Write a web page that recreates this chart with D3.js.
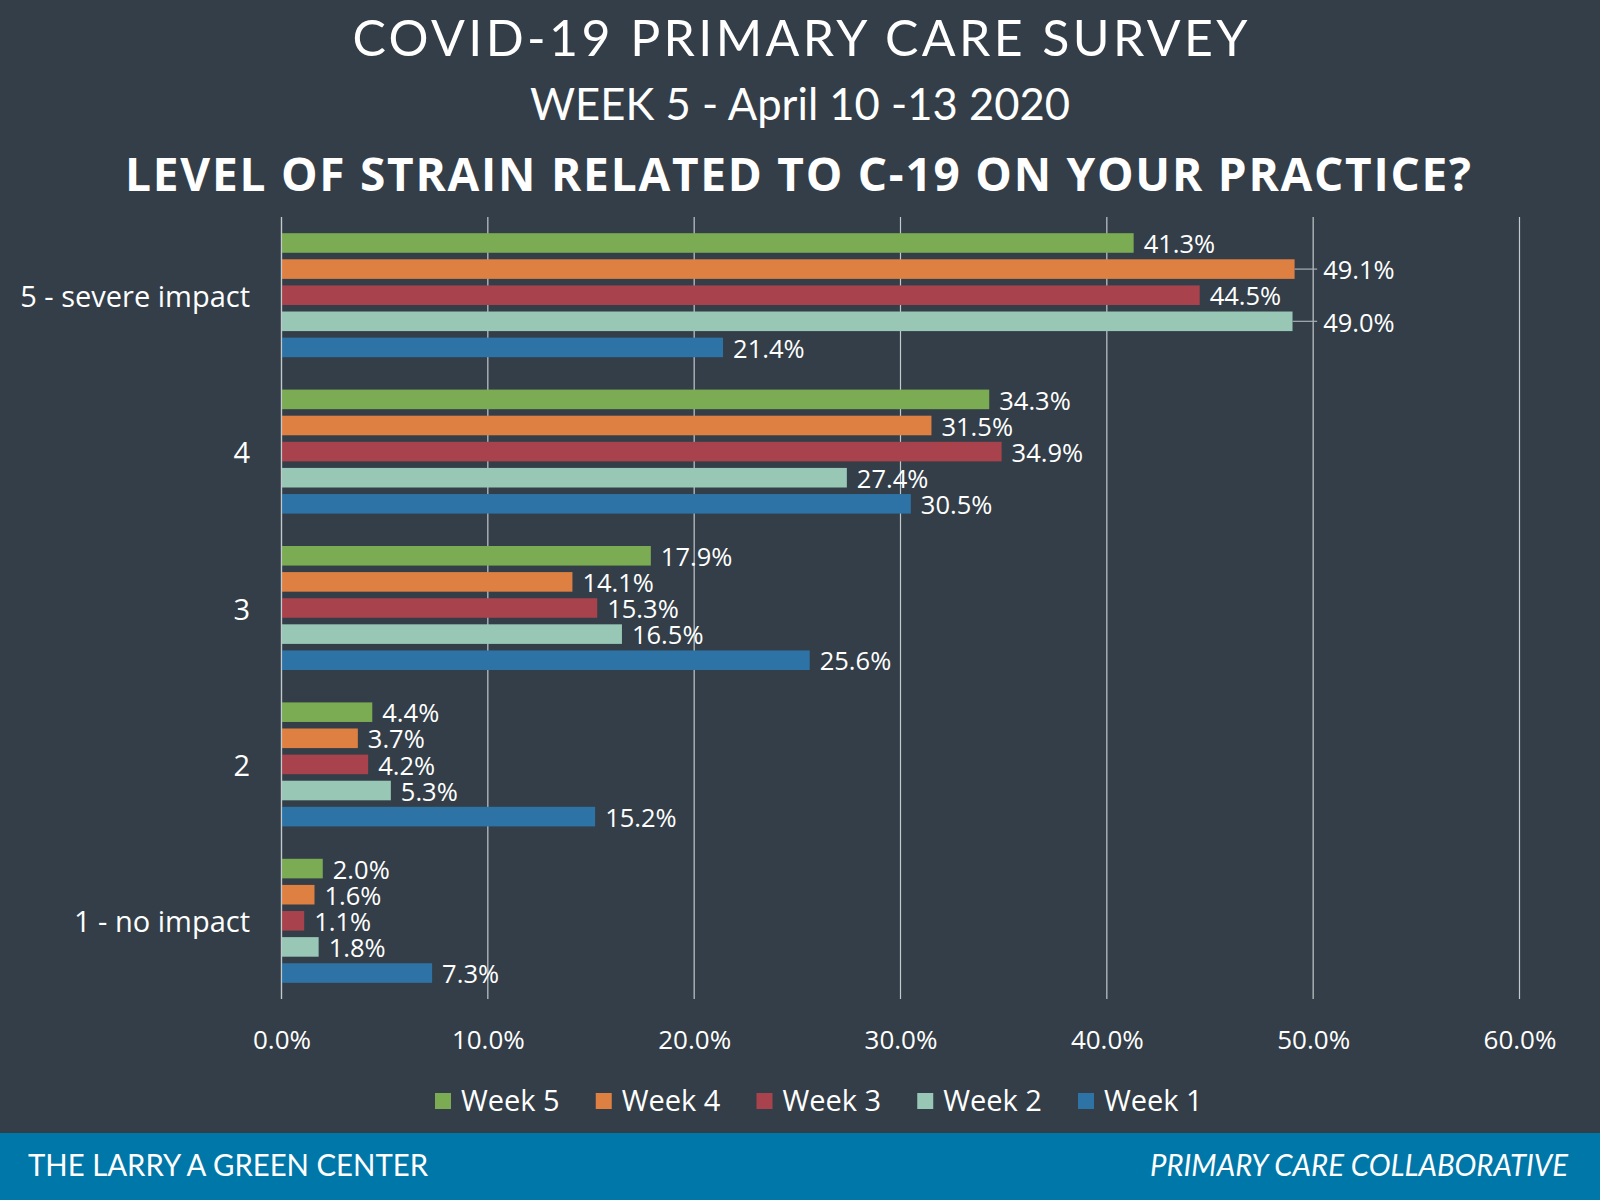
<!DOCTYPE html>
<html>
<head>
<meta charset="utf-8">
<script src="https://cdn.jsdelivr.net/npm/d3@7"></script>
<style>
  html, body { margin: 0; padding: 0; background: #333e48; }
  svg { display: block; }
</style>
</head>
<body>
<svg id="chart" width="1600" height="1200"></svg>
<script>
// ---- data ----
const categories = ["5 - severe impact", "4", "3", "2", "1 - no impact"];
const seriesNames = ["Week 5", "Week 4", "Week 3", "Week 2", "Week 1"];
const seriesColors = ["#7bab53", "#df8043", "#a8434d", "#98c7b6", "#2e73a6"];
const week5 = [41.3, 34.3, 17.9, 4.4, 2.0];
const week4 = [49.1, 31.5, 14.1, 3.7, 1.6];
const week3 = [44.5, 34.9, 15.3, 4.2, 1.1];
const week2 = [49.0, 27.4, 16.5, 5.3, 1.8];
const week1 = [21.4, 30.5, 25.6, 15.2, 7.3];
const tickValues = [0, 10, 20, 30, 40, 50, 60];
const titleText = "COVID-19 PRIMARY CARE SURVEY";
const subtitleText = "WEEK 5 - April 10 -13 2020";
const questionText = "LEVEL OF STRAIN RELATED TO C-19 ON YOUR PRACTICE?";
const footerLeft = "THE LARRY A GREEN CENTER";
const footerRight = "PRIMARY CARE COLLABORATIVE";

const seriesValues = [week5, week4, week3, week2, week1];

// ---- layout ----
const W = 1600, H = 1200;
const bg = "#333e48";
const svg = d3.select("#chart");
svg.append("rect").attr("width", W).attr("height", H).attr("fill", bg);

const plot = { left: 281.5, right: 1519.5, top: 217, bottom: 999 };

const x = d3.scaleLinear().domain([0, 60]).range([plot.left, plot.right]);
const y0 = d3.scaleBand().domain(categories).range([plot.top, plot.bottom]).padding(0);
const y1 = d3.scaleBand().domain(seriesNames).range([0, y0.bandwidth()])
  .paddingInner(0.25).paddingOuter(0.62);

// titles
const titleFont = "Lato, 'Open Sans', sans-serif";
svg.append("text").attr("x", 800).attr("y", 56).attr("text-anchor", "middle")
  .attr("fill", "#ffffff").attr("font-family", titleFont).attr("font-size", 50)
  .attr("textLength", 895).attr("lengthAdjust", "spacing")
  .text(titleText);
svg.append("text").attr("x", 800).attr("y", 120).attr("text-anchor", "middle")
  .attr("fill", "#ffffff").attr("font-family", titleFont).attr("font-size", 45)
  .attr("textLength", 540).attr("lengthAdjust", "spacingAndGlyphs")
  .text(subtitleText);
svg.append("text").attr("x", 798).attr("y", 191).attr("text-anchor", "middle")
  .attr("fill", "#ffffff").attr("font-family", "'Open Sans', Lato, sans-serif")
  .attr("font-weight", 700).attr("font-size", 46)
  .attr("textLength", 1346).attr("lengthAdjust", "spacing")
  .text(questionText);

// gridlines
const grid = svg.append("g");
grid.selectAll("line").data(tickValues).join("line")
  .attr("x1", d => x(d)).attr("x2", d => x(d))
  .attr("y1", plot.top).attr("y2", plot.bottom)
  .attr("stroke", "#c3c8cc").attr("stroke-width", 1.2);

// x axis tick labels
const xAxis = d3.axisBottom(x).tickValues(tickValues)
  .tickFormat(d => d3.format(".1f")(d) + "%").tickSize(0);
const gx = svg.append("g").attr("transform", `translate(0, 1028)`).call(xAxis);
gx.select(".domain").remove();
gx.selectAll("text").attr("fill", "#ffffff").attr("font-family", "'Open Sans', sans-serif")
  .attr("font-size", 26).attr("dy", "0.71em");

// y axis labels
const yAxis = d3.axisLeft(y0).tickSize(0).tickPadding(0);
const gy = svg.append("g").attr("transform", `translate(250, 0)`).call(yAxis);
gy.select(".domain").remove();
gy.selectAll("text").attr("fill", "#ffffff").attr("font-family", "'Open Sans', sans-serif")
  .attr("font-size", 29).attr("dy", "0.4em");

// bars
const rows = [];
categories.forEach((c, ci) => {
  seriesNames.forEach((s, si) => {
    rows.push({ cat: c, series: s, value: seriesValues[si][ci], color: seriesColors[si] });
  });
});

const bars = svg.append("g");
bars.selectAll("rect").data(rows).join("rect")
  .attr("x", x(0))
  .attr("y", d => y0(d.cat) + y1(d.series))
  .attr("width", d => x(d.value) - x(0))
  .attr("height", y1.bandwidth())
  .attr("fill", d => d.color);

// axis line (left)
svg.append("line").attr("x1", x(0)).attr("x2", x(0))
  .attr("y1", plot.top).attr("y2", plot.bottom)
  .attr("stroke", "#c3c8cc").attr("stroke-width", 1.2);

// value labels: labels whose text would sit on the 50% gridline are pushed
// past it with a leader line
const labels = svg.append("g");
const gridAfter = 50;
rows.forEach(d => {
  const cy = y0(d.cat) + y1(d.series) + y1.bandwidth() / 2;
  let tx = x(d.value) + 10;
  const needsLeader = d.value > 47.5 && d.value < gridAfter;
  if (needsLeader) {
    const lx2 = x(gridAfter) + 4;
    labels.append("line").attr("x1", x(d.value)).attr("x2", lx2)
      .attr("y1", cy).attr("y2", cy).attr("stroke", "#a9b0b6").attr("stroke-width", 1.2);
    tx = lx2 + 6;
  }
  labels.append("text").attr("x", tx).attr("y", cy).attr("dy", "0.4em")
    .attr("fill", "#ffffff").attr("font-family", "'Open Sans', sans-serif")
    .attr("font-size", 25.5)
    .text(d3.format(".1f")(d.value) + "%");
});

// legend
const legend = svg.append("g");
const legX = d3.scalePoint().domain(seriesNames).range([435, 1078]);
seriesNames.forEach((s, i) => {
  const g = legend.append("g").attr("transform", `translate(${legX(s)}, 1101)`);
  g.append("rect").attr("x", 0).attr("y", -8).attr("width", 16).attr("height", 16)
    .attr("fill", seriesColors[i]);
  g.append("text").attr("x", 26).attr("y", 0).attr("dy", "0.36em")
    .attr("fill", "#ffffff").attr("font-family", "'Open Sans', sans-serif")
    .attr("font-size", 29).text(s);
});

// footer
svg.append("rect").attr("x", 0).attr("y", 1133).attr("width", W).attr("height", H - 1133)
  .attr("fill", "#0077a9");
svg.append("text").attr("x", 28).attr("y", 1176)
  .attr("fill", "#ffffff").attr("font-family", titleFont).attr("font-size", 30)
  .attr("textLength", 400).attr("lengthAdjust", "spacingAndGlyphs")
  .text(footerLeft);
svg.append("text").attr("x", 1568).attr("y", 1176).attr("text-anchor", "end")
  .attr("fill", "#ffffff").attr("font-family", titleFont).attr("font-size", 30)
  .attr("font-style", "italic")
  .attr("textLength", 418).attr("lengthAdjust", "spacingAndGlyphs")
  .text(footerRight);
</script>
</body>
</html>
